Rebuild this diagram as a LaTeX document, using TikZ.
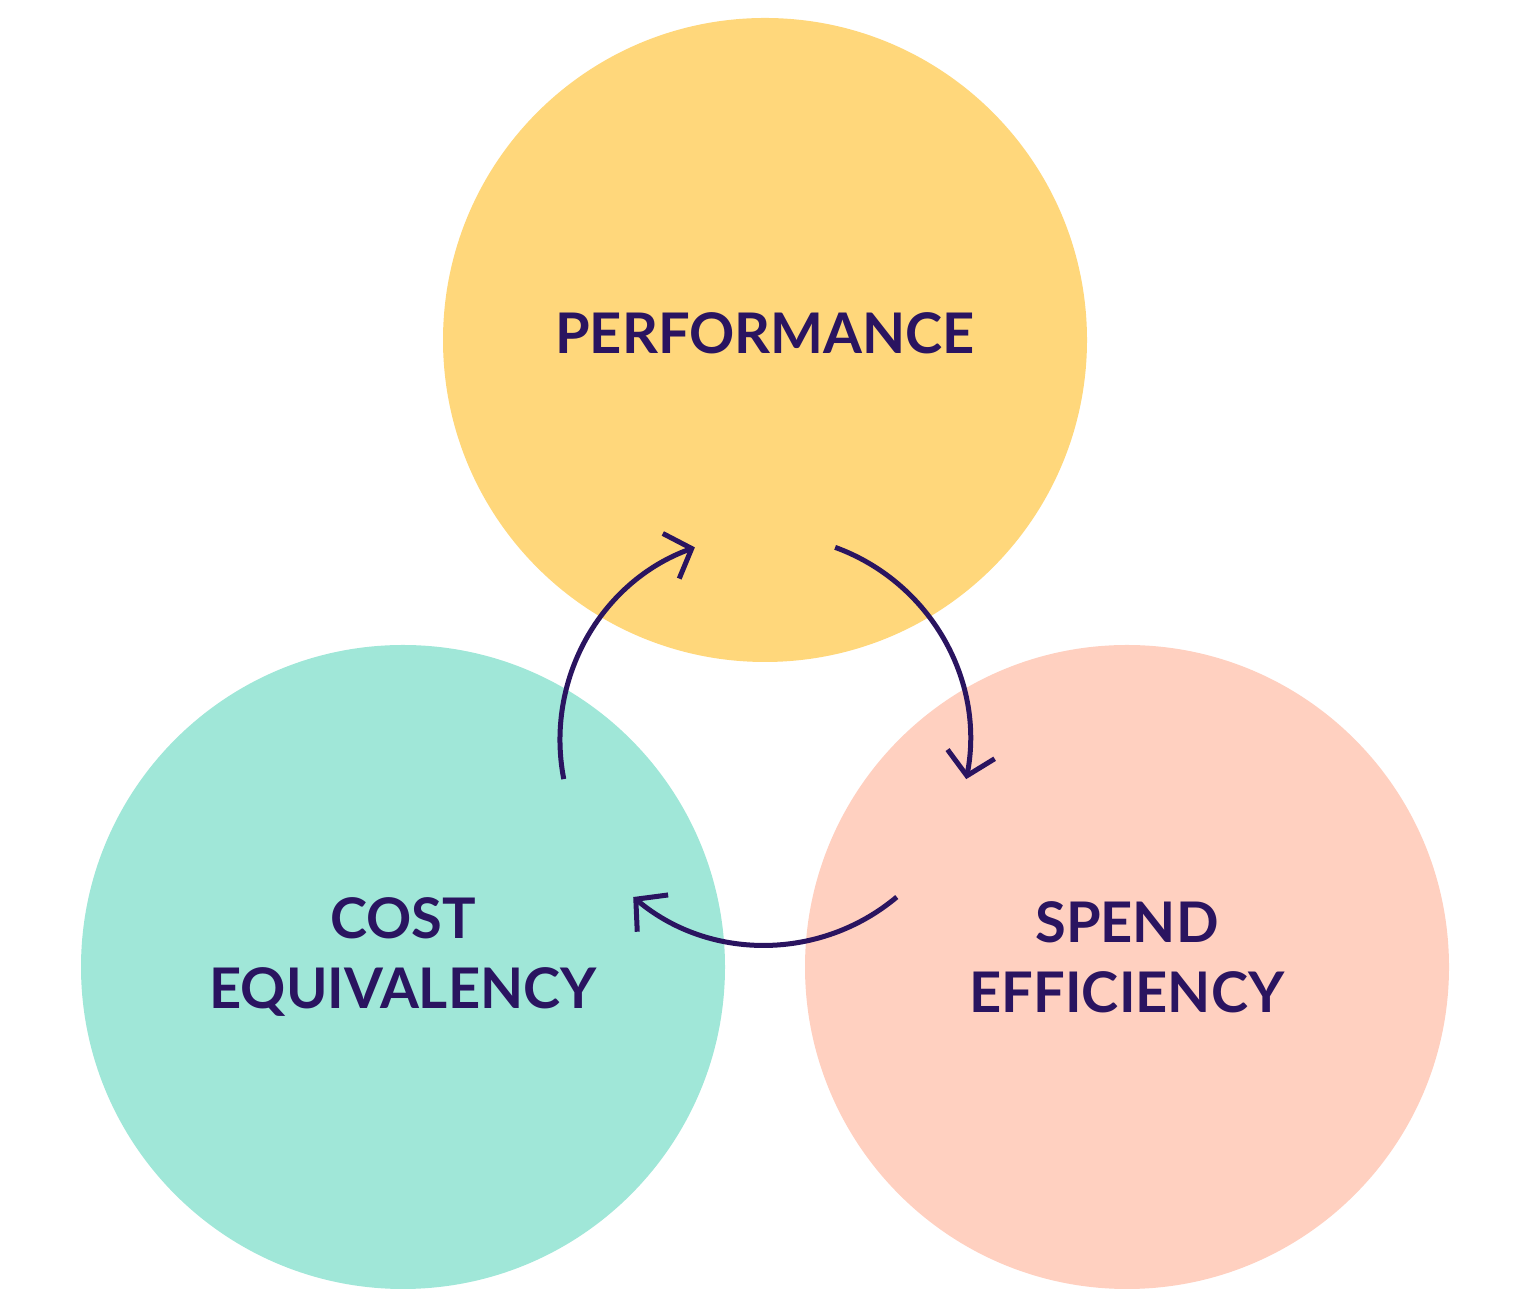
\documentclass[tikz,border=0pt]{standalone}
\usepackage{fontspec}
\setmainfont{Lato}
\usetikzlibrary{arrows.meta}
\definecolor{cyel}{HTML}{FFD77B}
\definecolor{cteal}{HTML}{A0E7D8}
\definecolor{cpeach}{HTML}{FFD0C0}
\definecolor{cnavy}{HTML}{2A1460}
\begin{document}
\begin{tikzpicture}[x=0.5pt,y=0.5pt,
  blob/.style={circle,minimum size=322pt,inner sep=0pt,draw=none},
  lbl/.style={text=cnavy,font=\fontsize{28}{35}\selectfont\bfseries,align=center},
  cyc/.style={draw=cnavy,line width=2.5pt,-{Straight Barb[length=11pt,width=24pt,line width=2.5pt]}}]
\useasboundingbox (0,0) rectangle (1540,1315);
\node[blob,fill=cyel] (perf) at (765,975) {};
\node[blob,fill=cteal] (cost) at (403,348) {};
\node[blob,fill=cpeach] (spend) at (1127,348) {};
\node[lbl] (tperf) at (765,982) {PERFORMANCE};
\node[lbl] (tcost) at (403,358) {COST\\EQUIVALENCY};
\node[lbl] (tspend) at (1127,358) {SPEND\\EFFICIENCY};
\coordinate (c) at (765,575);
\draw[cyc] ([shift={(191:205)}]c) arc[start angle=191,end angle=110,radius=205];
\draw[cyc] ([shift={(70:205)}]c) arc[start angle=70,end angle=-11,radius=205];
\draw[cyc] ([shift={(-50:205)}]c) arc[start angle=-50,end angle=-130,radius=205];
\end{tikzpicture}
\end{document}
